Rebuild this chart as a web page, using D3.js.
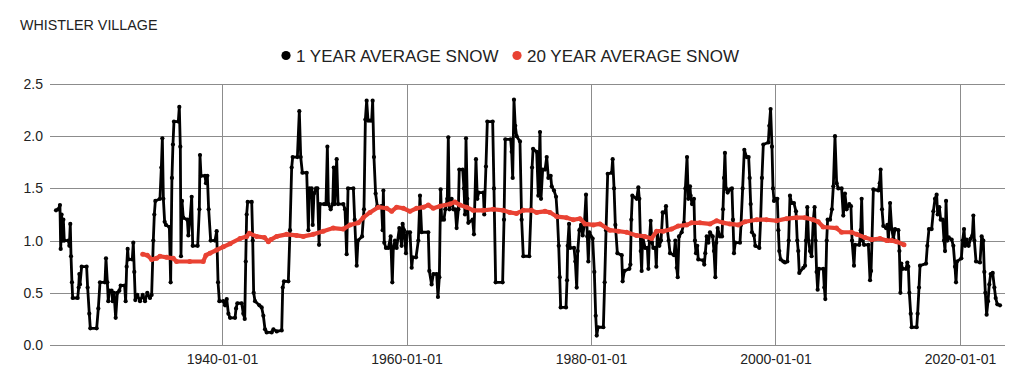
<!DOCTYPE html>
<html><head><meta charset="utf-8">
<script src="https://cdn.jsdelivr.net/npm/d3@7"></script>
<style>
html,body{margin:0;padding:0;background:#fff;}
svg{display:block;font-family:"Liberation Sans",Arial,sans-serif;}
</style></head>
<body><svg id="c" width="1024" height="386"></svg>
<script>
const title = "WHISTLER VILLAGE";
const seriesNames = ["1 YEAR AVERAGE SNOW", "20 YEAR AVERAGE SNOW"];
const seriesColors = ["#000000", "#e94233"];
const yTicks = [0, 0.5, 1.0, 1.5, 2.0, 2.5];
const xTickYears = [1940, 1960, 1980, 2000, 2020];

// 1 year average snow (decimal year, value)
const yr1 = [1922.00,1922.25,1922.43,1922.51,1922.61,1922.72,1922.80,1922.90,1923.34,1923.45,1923.55,1923.63,1923.73,1923.81,1924.35,1924.46,1924.53,1924.60,1924.78,1925.32,1925.43,1925.61,1925.72,1926.41,1926.59,1926.77,1927.31,1927.42,1927.57,1927.67,1927.78,1928.03,1928.14,1928.29,1928.47,1928.65,1928.87,1929.01,1929.44,1929.55,1929.66,1929.77,1929.84,1930.27,1930.38,1930.49,1930.60,1930.82,1931.11,1931.40,1931.65,1931.90,1932.19,1932.37,1932.55,1932.66,1932.77,1933.27,1933.42,1933.53,1933.64,1933.78,1933.92,1934.29,1934.43,1934.57,1934.68,1934.79,1935.26,1935.37,1935.48,1935.55,1935.66,1935.80,1936.24,1936.35,1936.53,1936.71,1936.82,1937.36,1937.54,1937.61,1937.72,1938.15,1938.26,1938.41,1938.55,
1938.77,1939.24,1939.42,1939.57,1939.71,1940.15,1940.33,1940.51,1940.69,1940.87,1941.41,1941.52,1941.66,1942.13,1942.31,1942.46,1942.57,1942.67,1942.78,1943.22,1943.33,1943.43,1943.58,1944.05,1944.30,1944.48,1944.66,1944.84,1945.38,1945.57,1945.93,1946.47,1946.58,1946.72,1947.19,1947.37,1947.55,1947.66,1948.17,1948.38,1948.53,1948.71,1949.18,1949.36,1949.47,1949.72,1949.83,1949.97,1950.19,1950.34,1950.52,1950.62,1951.06,1951.27,1951.42,1951.53,1951.78,1952.00,1952.11,1952.21,1952.43,1952.58,1953.15,1953.33,1953.51,1953.66,1954.24,1954.38,1954.60,1954.74,1955.18,1955.39,1955.54,1955.68,1955.83,
1956.04,1956.22,1956.33,1956.47,1956.65,1956.83,1957.30,1957.41,1957.49,1957.59,1957.77,1958.03,1958.28,1958.46,1958.57,1958.75,1958.93,1959.22,1959.47,1959.58,1959.73,1959.94,1960.09,1960.38,1960.56,1960.67,1961.03,1961.28,1961.46,1961.64,1962.36,1962.47,1962.72,1962.91,1963.27,1963.41,1963.56,1963.70,1963.81,1964.06,1964.21,1964.42,1964.53,1964.64,1964.89,1965.07,1965.29,1965.43,1965.62,1965.72,1966.09,1966.23,1966.34,1966.45,1966.59,1966.70,1967.17,1967.31,1967.53,1967.68,1967.82,1968.33,1968.43,1968.61,1968.76,1969.34,1969.48,1969.66,1970.42,1970.57,1970.71,1971.29,1971.40,1971.51,1971.65,1971.79,1971.94,1972.30,1972.48,1972.66,1973.31,
1973.50,1973.61,1973.72,1974.11,1974.29,1974.47,1974.58,1974.76,1975.02,1975.20,1975.38,1975.63,1975.74,1975.99,1976.21,1976.35,1976.50,1976.61,1976.71,1977.29,1977.40,1977.47,1977.62,1977.73,1978.16,1978.30,1978.45,1978.56,1978.74,1978.92,1979.10,1979.28,1979.46,1979.60,1979.71,1979.82,1980.18,1980.36,1980.51,1980.62,1980.76,1981.34,1981.48,1981.63,1981.81,1982.24,1982.35,1982.50,1982.64,1982.86,1983.33,1983.43,1983.62,1984.16,1984.27,1984.37,1984.48,1984.95,1985.13,1985.24,1985.39,1985.49,1985.60,1985.86,1986.11,1986.22,1986.33,1986.47,1986.61,1986.76,1986.98,1987.08,1987.19,1987.41,1987.59,1987.77,1988.02,1988.13,1988.28,1988.42,1988.57,1989.00,1989.14,1989.29,1989.40,1989.54,1989.83,1990.08,1990.23,1990.41,1990.55,1990.73,
1990.80,1990.95,1991.16,1991.27,1991.38,1991.52,1991.63,1992.18,1992.28,1992.39,1992.54,1992.72,1992.90,1993.19,1993.33,1993.48,1993.58,1993.73,1993.98,1994.20,1994.31,1994.42,1994.52,1994.63,1994.81,1995.07,1995.28,1995.39,1995.50,1995.64,1996.15,1996.26,1996.44,1996.62,1996.87,1997.09,1997.20,1997.31,1997.45,1997.67,1997.81,1998.25,1998.39,1998.53,1998.68,1999.22,1999.33,1999.47,1999.62,1999.73,1999.84,2000.05,2000.20,2000.31,2000.41,2000.56,2000.85,2001.03,2001.28,2001.43,2001.57,2001.75,2002.00,2002.22,2002.36,2002.47,2002.58,2003.02,2003.20,2003.30,2003.45,2003.59,2003.74,2003.92,2004.10,2004.24,2004.35,2004.46,2004.57,2004.71,2005.18,2005.29,2005.40,2005.55,2005.65,2005.91,2006.12,2006.27,2006.45,2006.63,2006.81,2007.17,2007.35,2007.53,2007.71,2008.00,2008.18,
2008.30,2008.51,2008.62,2009.09,2009.24,2009.34,2009.45,2009.60,2010.07,2010.25,2010.36,2010.46,2010.61,2011.15,2011.30,2011.40,2011.55,2011.69,2011.98,2012.13,2012.24,2012.42,2012.60,2012.78,2012.96,2013.32,2013.43,2013.54,2013.64,2013.79,2014.15,2014.29,2014.40,2014.51,2014.66,2014.76,2015.31,2015.41,2015.56,2015.67,2016.32,2016.46,2016.64,2016.93,2017.11,2017.29,2017.47,2017.58,2017.76,2017.91,2018.13,2018.27,2018.38,2018.49,2018.63,2018.78,2019.10,2019.28,2019.46,2019.57,2019.68,2020.15,2020.29,2020.44,2020.55,2020.73,2020.94,2021.16,2021.34,2021.45,2021.56,2021.74,2022.17,2022.35,2022.53,2022.64,2022.75,2022.89,2023.04,2023.18,2023.33,2023.55,2023.73,2023.87,2024.05,2024.34];
const snow1 = [1.29,1.30,1.34,0.92,1.25,1.00,1.20,1.00,1.00,0.95,1.16,0.85,0.60,0.45,0.45,0.55,0.68,0.58,0.75,0.75,0.55,0.30,0.16,0.16,0.35,0.60,0.60,0.83,0.60,0.42,0.52,0.52,0.42,0.50,0.26,0.50,0.52,0.57,0.57,0.42,0.75,0.92,0.82,0.82,0.98,0.70,0.43,0.48,0.42,0.48,0.42,0.50,0.45,0.48,1.00,1.25,1.38,1.40,1.70,1.98,1.40,1.18,1.15,1.13,0.60,1.60,1.92,2.14,2.14,2.28,1.90,0.85,1.38,1.22,1.20,1.05,1.20,1.42,0.95,0.95,1.30,1.82,1.62,1.62,1.55,1.62,1.30,
1.00,1.00,1.09,0.60,0.42,0.42,0.38,0.44,0.30,0.26,0.26,0.35,0.40,0.40,0.30,0.25,0.80,1.25,1.37,1.37,1.00,0.50,0.42,0.38,0.36,0.28,0.15,0.12,0.12,0.15,0.13,0.14,0.55,0.61,0.61,1.10,1.70,1.80,1.80,2.24,1.80,1.65,1.65,1.10,1.50,1.50,1.15,1.45,1.50,1.50,0.96,1.35,1.35,1.35,1.90,1.35,1.30,1.35,1.70,1.35,1.78,1.35,1.35,1.30,0.87,1.50,1.50,1.20,0.76,1.00,1.04,1.30,2.16,2.34,2.15,
2.15,2.15,2.34,1.80,1.45,1.33,1.33,1.10,1.48,0.98,0.93,0.93,1.04,0.60,0.93,1.00,0.93,1.12,0.95,1.16,1.10,0.88,1.08,1.08,0.74,0.84,0.84,1.00,1.43,1.08,1.08,0.71,0.58,0.68,0.68,0.46,0.65,1.49,1.20,1.20,1.30,1.40,1.99,1.30,1.40,1.30,1.30,1.12,1.30,1.68,1.68,1.50,1.25,1.98,1.40,1.17,1.20,1.06,1.78,1.40,1.46,1.46,1.25,1.71,2.14,2.14,1.50,0.60,0.60,1.20,1.97,1.97,1.85,1.60,2.35,2.10,2.00,1.95,1.20,0.85,0.85,
1.30,1.70,1.88,1.85,1.43,2.04,1.40,1.68,1.68,1.80,1.60,1.62,1.52,1.48,1.42,1.24,0.95,0.65,0.36,0.36,0.62,0.95,1.16,0.93,0.93,0.80,0.55,0.90,1.10,1.15,1.05,1.15,1.44,1.04,0.80,1.08,1.02,0.70,0.28,0.09,0.17,0.17,0.60,1.10,1.64,1.65,1.78,1.50,1.15,0.88,0.86,0.61,0.71,0.73,0.77,1.20,1.43,1.40,1.51,1.40,0.90,0.71,1.04,0.93,0.93,0.73,1.00,1.19,0.98,0.93,0.93,0.75,1.08,0.95,1.00,1.27,1.27,1.33,1.10,1.00,0.88,0.86,1.00,0.74,0.65,1.04,1.08,1.17,1.50,1.80,1.40,1.52,
1.43,1.35,1.40,1.00,0.88,0.95,0.82,0.81,0.77,0.88,1.04,0.98,1.08,1.04,0.90,0.65,0.98,1.12,1.04,1.04,1.30,1.60,1.84,1.50,1.46,1.49,1.50,1.20,0.88,0.98,0.98,1.15,1.50,1.87,1.80,1.80,1.60,1.35,1.08,1.05,0.95,0.93,1.20,1.60,1.92,1.94,2.10,2.26,1.90,1.50,1.38,1.40,1.40,1.10,0.90,0.82,0.80,0.79,0.80,1.00,1.43,1.36,1.36,1.28,1.00,0.90,0.69,0.74,0.76,1.00,1.32,1.00,0.90,0.85,1.20,1.32,1.00,0.70,0.53,0.73,0.73,0.55,0.44,1.00,1.20,1.20,1.30,1.52,2.00,1.55,1.50,1.50,1.24,1.45,1.30,1.35,1.33,
1.00,0.76,0.96,0.96,1.10,1.40,1.00,0.96,0.96,0.62,0.71,1.00,1.49,1.48,1.55,1.68,1.30,1.14,1.12,1.15,1.00,1.36,1.11,1.02,1.11,1.10,0.90,0.50,0.78,0.73,0.73,0.79,0.75,0.50,0.30,0.17,0.17,0.30,0.55,0.76,0.78,0.95,1.11,1.11,1.28,1.40,1.44,1.25,1.32,1.20,1.20,1.00,0.90,1.38,1.00,1.03,1.01,0.95,0.75,0.60,0.80,0.83,1.00,1.11,0.95,1.01,0.95,1.02,1.05,1.24,1.00,0.80,0.79,1.04,1.00,0.70,0.50,0.29,0.42,0.58,0.68,0.69,0.55,0.45,0.39,0.38];

// 20 year average snow
const yr20 = [1931.40,1931.90,1932.37,1932.90,1933.27,1934.00,1934.71,1935.07,1936.50,1937.96,1938.26,1938.70,1939.42,1940.14,1940.87,1941.95,1942.67,1942.95,1943.75,1944.60,1945.02,1945.30,1945.92,1947.00,1948.09,1948.81,1949.89,1950.97,1952.06,1953.14,1953.86,1954.77,1955.31,1956.04,1956.94,1957.85,1958.39,1958.93,1959.65,1960.37,1961.09,1961.82,1962.36,1962.90,1963.62,1964.70,1965.25,1965.79,1966.51,1967.23,1968.31,1969.40,1970.48,1971.20,1971.92,1972.65,1973.55,1974.11,1975.01,1975.56,1976.28,1977.36,1978.08,1978.81,1979.35,1980.25,1980.97,1982.05,1982.96,1983.86,1984.94,1985.84,1986.57,1987.11,1987.83,1988.73,1989.45,1990.36,1990.90,1991.81,1992.90,1993.62,1994.34,1995.06,1995.96,1996.69,1997.95,1999.03,2000.12,2001.20,2002.28,2003.19,2004.09,2004.63,2005.17,2006.61,2007.16,2008.24,2008.80,2009.70,2010.43,2011.33,2012.05,2012.59,2013.13,2013.93];
const snow20 = [0.87,0.86,0.82,0.83,0.85,0.84,0.83,0.80,0.80,0.80,0.86,0.88,0.91,0.94,0.97,1.02,1.04,1.07,1.04,1.03,0.99,1.01,1.04,1.06,1.05,1.04,1.06,1.09,1.12,1.11,1.15,1.17,1.22,1.27,1.32,1.31,1.28,1.32,1.31,1.28,1.31,1.32,1.34,1.31,1.33,1.35,1.37,1.34,1.32,1.29,1.29,1.30,1.29,1.27,1.26,1.29,1.29,1.27,1.28,1.27,1.23,1.22,1.20,1.21,1.16,1.15,1.16,1.10,1.09,1.08,1.05,1.04,1.02,1.09,1.09,1.11,1.14,1.15,1.17,1.17,1.16,1.19,1.17,1.16,1.15,1.18,1.20,1.20,1.19,1.21,1.22,1.22,1.20,1.18,1.13,1.12,1.08,1.08,1.06,1.03,1.01,1.02,1.00,1.00,0.99,0.96];

function decDate(y){
  const yr = Math.floor(y);
  const a = Date.UTC(yr,0,1), b = Date.UTC(yr+1,0,1);
  return new Date(a + (y-yr)*(b-a));
}
const d1 = yr1.map((y,i)=>({d:decDate(y), v:snow1[i]}));
const d20 = yr20.map((y,i)=>({d:decDate(y), v:snow20[i]}));

const W=1024,H=386, m={l:50,r:19,t:84,b:41};
const svg = d3.select("#c");
const x = d3.scaleUtc().domain([decDate(1921.35), decDate(2024.88)]).range([m.l, W-m.r]);
const y = d3.scaleLinear().domain([0,2.5]).range([H-m.b, m.t]);
const grid = "#8c8c8c", txt = "#222";

// title
svg.append("text").attr("x",20).attr("y",30).attr("font-size",14.3).attr("fill",txt).text(title);

// legend
const leg = svg.append("g");
const legX = [[286,296],[517,527]];
seriesNames.forEach((n,i)=>{
  leg.append("circle").attr("cx",legX[i][0]).attr("cy",55.5).attr("r",4.6).attr("fill",seriesColors[i]);
  leg.append("text").attr("x",legX[i][1]).attr("y",61.5).attr("font-size",17).attr("fill",txt).text(n);
});

// y grid + labels
const ya = d3.axisLeft(y).tickValues(yTicks).tickFormat(d3.format(".1f")).tickSize(-(W-m.l-m.r)).tickPadding(7);
const yg = svg.append("g").attr("transform",`translate(${m.l},0)`).call(ya);
yg.select(".domain").remove();
yg.selectAll("line").attr("stroke",grid).attr("shape-rendering","crispEdges");
yg.selectAll("text").attr("font-size",14).attr("fill",txt).attr("font-family","Liberation Sans, Arial, sans-serif");

// x grid + labels
const xa = d3.axisBottom(x).tickValues(xTickYears.map(v=>new Date(Date.UTC(v,0,1)))).tickFormat(d3.utcFormat("%Y-%m-%d")).tickSize(-(H-m.t-m.b)).tickPadding(9);
const xg = svg.append("g").attr("transform",`translate(0,${H-m.b})`).call(xa);
xg.select(".domain").remove();
xg.selectAll("line").attr("stroke",grid).attr("shape-rendering","crispEdges");
xg.selectAll("text").attr("font-size",14).attr("fill",txt).attr("font-family","Liberation Sans, Arial, sans-serif");

const line = d3.line().x(d=>x(d.d)).y(d=>y(d.v));

// black series
svg.append("path").datum(d1).attr("d",line).attr("fill","none").attr("stroke",seriesColors[0]).attr("stroke-width",2.8).attr("stroke-linejoin","round");
svg.append("g").selectAll("circle").data(d1).join("circle").attr("cx",d=>x(d.d)).attr("cy",d=>y(d.v)).attr("r",2.1).attr("fill",seriesColors[0]);

// red series
svg.append("path").datum(d20).attr("d",line).attr("fill","none").attr("stroke",seriesColors[1]).attr("stroke-width",4.2).attr("stroke-linejoin","round");
svg.append("g").selectAll("circle").data(d20).join("circle").attr("cx",d=>x(d.d)).attr("cy",d=>y(d.v)).attr("r",2.5).attr("fill",seriesColors[1]);
</script></body></html>
